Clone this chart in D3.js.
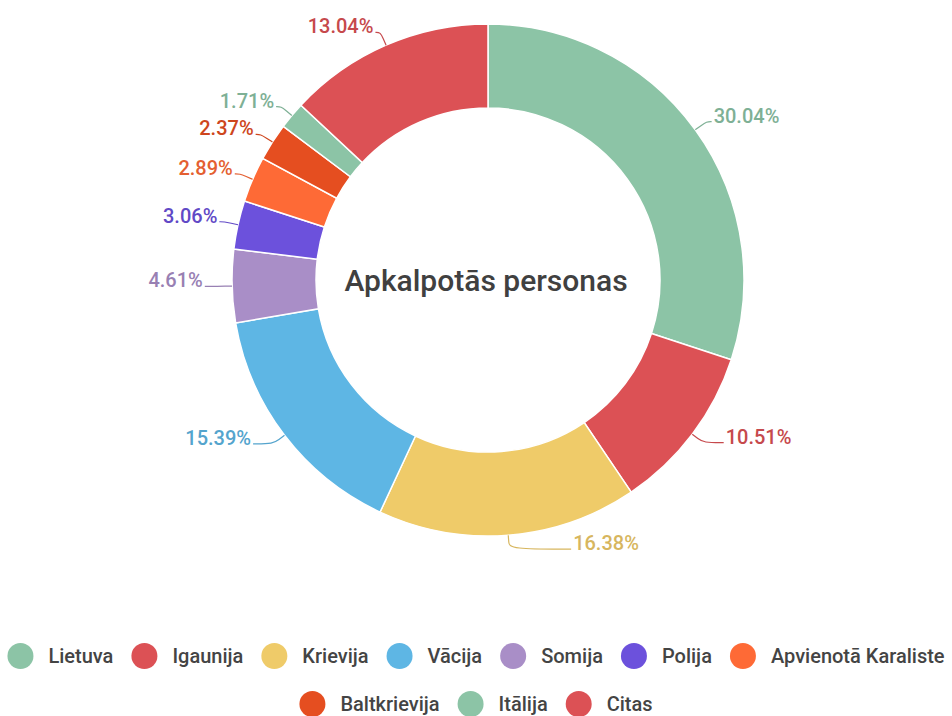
<!DOCTYPE html>
<html>
<head>
<meta charset="utf-8">
<script src="https://cdn.jsdelivr.net/npm/d3@7"></script>
<style>
  body { margin: 0; background: #fff; }
  svg text { font-family: Roboto, "Noto Sans", sans-serif; }
</style>
</head>
<body>
<div id="chart-container"></div>
<script>
// Data
const countries = ["Lietuva", "Igaunija", "Krievija", "Vācija", "Somija", "Polija",
                   "Apvienotā Karaliste", "Baltkrievija", "Itālija", "Citas"];
const shares = [30.04, 10.51, 16.38, 15.39, 4.61, 3.06, 2.89, 2.37, 1.71, 13.04];
const colors = ["#8cc4a6", "#dc5155", "#efcb69", "#5eb6e4", "#a98ec7", "#6c51dc",
                "#fe6a36", "#e54e20", "#8cc4a6", "#dc5155"];
const centerTitle = "Apkalpotās personas";

const data = countries.map((c, i) => ({ name: c, value: shares[i], color: colors[i] }));

// Dimensions
const width = 952, height = 716;
const cx = 488, cy = 280;
const outerR = 256, innerR = 172;
const len1 = 14, len2 = 5;

const svg = d3.select("#chart-container")
    .append("svg")
    .attr("width", width)
    .attr("height", height);

const g = svg.append("g")
    .attr("transform", "translate(" + cx + "," + cy + ")");

const pie = d3.pie()
    .value(d => d.value)
    .sort(null);

const arc = d3.arc()
    .innerRadius(innerR)
    .outerRadius(outerR);

const arcs = pie(data);

// Slices
g.selectAll(".slice")
    .data(arcs)
    .enter().append("path")
    .attr("class", "slice")
    .attr("d", arc)
    .attr("fill", d => d.data.color)
    .attr("stroke", "#fff")
    .attr("stroke-width", 1.5);

// Labels with leader lines
const line = d3.line().curve(d3.curveBasis);

arcs.forEach(d => {
    const a = (d.startAngle + d.endAngle) / 2;
    const s = Math.sin(a), c = Math.cos(a);
    const side = s >= 0 ? 1 : -1;
    const p0 = [outerR * s, -outerR * c];
    const p1 = [(outerR + len1) * s, -(outerR + len1) * c];
    // lower labels get a longer horizontal tail, the bottom one most
    const extra = c < 0 ? 12 * Math.abs(c) + 8 + 50 * Math.max(0, 0.3 - Math.abs(s)) / 0.3 : 0;
    const p2 = [p1[0] + side * (len2 + extra), p1[1]];
    const col = d3.color(d.data.color).darker(0.3).formatHex();

    g.append("path")
        .attr("d", line([p0, [ (p0[0] + p1[0]) / 2, (p0[1] + p1[1]) / 2 ], p1, p2]))
        .attr("fill", "none")
        .attr("stroke", col)
        .attr("stroke-width", 1.2);

    g.append("text")
        .attr("x", p2[0] + side * 2)
        .attr("y", p2[1] + 1)
        .attr("text-anchor", side > 0 ? "start" : "end")
        .attr("fill", col)
        .style("font-size", "20px")
        .style("font-weight", 500)
        .text(d.data.value.toFixed(2) + "%");
});

// Center title
g.append("text")
    .attr("x", -2)
    .attr("y", 0)
    .attr("dy", "0.35em")
    .attr("text-anchor", "middle")
    .attr("fill", "#404040")
    .style("font-size", "30px")
    .style("font-weight", 500)
    .text(centerTitle);

// Legend, centred rows that wrap
const dotR = 13, dotGap = 15, itemGap = 18;
const rowY = [656, 704];
const legend = svg.append("g").attr("class", "legend");

const items = data.map(d => {
    const it = legend.append("g");
    it.append("circle")
        .attr("r", dotR)
        .attr("cx", dotR)
        .attr("fill", d.color);
    const t = it.append("text")
        .attr("x", dotR * 2 + dotGap)
        .attr("dy", "0.35em")
        .attr("fill", "#444")
        .style("font-size", "20px")
        .style("font-weight", 500)
        .text(d.name);
    const w = dotR * 2 + dotGap + t.node().getComputedTextLength();
    return { node: it, w: w };
});

const rows = [[]];
let rowW = 0;
items.forEach(it => {
    const add = (rows[rows.length - 1].length ? itemGap : 0) + it.w;
    if (rowW + add > width - 4 && rows[rows.length - 1].length) {
        rows.push([it]);
        rowW = it.w;
    } else {
        rows[rows.length - 1].push(it);
        rowW += add;
    }
});

rows.forEach((row, ri) => {
    const total = d3.sum(row, r => r.w) + itemGap * (row.length - 1);
    let x = (width - total) / 2;
    row.forEach(it => {
        it.node.attr("transform", "translate(" + x + "," + rowY[ri] + ")");
        x += it.w + itemGap;
    });
});
</script>
</body>
</html>
